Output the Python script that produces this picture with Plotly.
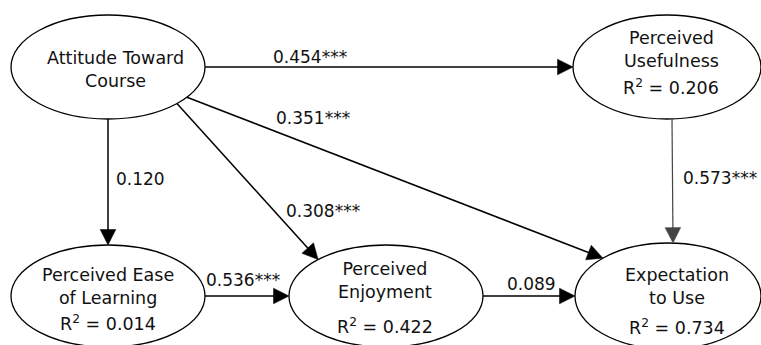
import math
import plotly.graph_objects as go

# ---------------- data ----------------
node_ids = ["ATC", "PU", "PEL", "PE", "EU"]
node_names = ["Attitude Toward<br>Course", "Perceived<br>Usefulness",
              "Perceived Ease<br>of Learning", "Perceived<br>Enjoyment",
              "Expectation<br>to Use"]
node_r2 = [None, 0.206, 0.014, 0.422, 0.734]

path_from = ["ATC", "ATC", "ATC", "ATC", "PEL", "PE", "PU"]
path_to = ["PU", "EU", "PEL", "PE", "PE", "EU", "EU"]
path_coef = [0.454, 0.351, 0.120, 0.308, 0.536, 0.089, 0.573]
path_stars = ["***", "***", "", "***", "***", "", "***"]

# ---------------- layout (pixel geometry) ----------------
W, H = 761, 345
geom = {  # ellipse centre/radii, text x, name-block y, R2 y
    "ATC": dict(cx=108, cy=67, rx=97, ry=52, tx=115, ny=69.5, ry2=None),
    "PU": dict(cx=667, cy=67, rx=94, ry=52, tx=671, ny=49, ry2=87),
    "PEL": dict(cx=108, cy=296, rx=97, ry=51, tx=108, ny=286, ry2=323),
    "PE": dict(cx=386, cy=296, rx=97, ry=51, tx=385, ny=280, ry2=326),
    "EU": dict(cx=668, cy=296, rx=93, ry=53, tx=677, ny=286.5, ry2=327),
}
# attachment angles (degrees, y-down) on source / target ellipse, and label centre
edge_geom = {
    ("ATC", "PU"): dict(a0=0, a1=180, lx=310, ly=57),
    ("ATC", "EU"): dict(a0=35.5, a1=225.6, lx=313, ly=118),
    ("ATC", "PEL"): dict(a0=90, a1=270, lx=140, ly=179),
    ("ATC", "PE"): dict(a0=44.7, a1=225.6, lx=323, ly=211),
    ("PEL", "PE"): dict(a0=0, a1=180, lx=243, ly=280),
    ("PE", "EU"): dict(a0=0, a1=180, lx=531, ly=284),
    ("PU", "EU"): dict(a0=86.95, a1=273.1, lx=720, ly=178),
}
edge_style = {("PU", "EU"): dict(color="#444444", width=1.2)}
HEAD_LEN, HEAD_HALF = 15.5, 7.8

FONT = "DejaVu Sans"
TXT = "#111111"


def pt(nid, ang):
    g = geom[nid]
    t = math.radians(ang)
    return g["cx"] + g["rx"] * math.cos(t), g["cy"] + g["ry"] * math.sin(t)


fig = go.Figure()
shapes = []
annotations = []

for nid, name, r2 in zip(node_ids, node_names, node_r2):
    g = geom[nid]
    shapes.append(dict(type="circle", xref="x", yref="y",
                       x0=g["cx"] - g["rx"], x1=g["cx"] + g["rx"],
                       y0=g["cy"] - g["ry"], y1=g["cy"] + g["ry"],
                       line=dict(color="black", width=1.3), fillcolor="rgba(0,0,0,0)"))
    annotations.append(dict(x=g["tx"], y=g["ny"], xref="x", yref="y", text=name,
                            showarrow=False, xanchor="center", yanchor="middle",
                            font=dict(family=FONT, size=17.5, color=TXT)))
    if r2 is not None:
        annotations.append(dict(x=g["tx"], y=g["ry2"], xref="x", yref="y",
                                text=f"R<sup>2</sup> = {r2:.3f}",
                                showarrow=False, xanchor="center", yanchor="middle",
                                font=dict(family=FONT, size=17.5, color=TXT)))

for s, t, c, st in zip(path_from, path_to, path_coef, path_stars):
    eg = edge_geom[(s, t)]
    x0, y0 = pt(s, eg["a0"])
    x1, y1 = pt(t, eg["a1"])
    sty = edge_style.get((s, t), dict(color="black", width=1.5))
    L = math.hypot(x1 - x0, y1 - y0)
    ux, uy = (x1 - x0) / L, (y1 - y0) / L
    bx, by = x1 - ux * HEAD_LEN, y1 - uy * HEAD_LEN
    # shaft
    shapes.append(dict(type="line", xref="x", yref="y", x0=x0, y0=y0,
                       x1=bx + ux * 2, y1=by + uy * 2,
                       line=dict(color=sty["color"], width=sty["width"])))
    # head
    p1 = (bx - uy * HEAD_HALF, by + ux * HEAD_HALF)
    p2 = (bx + uy * HEAD_HALF, by - ux * HEAD_HALF)
    path = f"M{x1:.2f},{y1:.2f} L{p1[0]:.2f},{p1[1]:.2f} L{p2[0]:.2f},{p2[1]:.2f} Z"
    shapes.append(dict(type="path", xref="x", yref="y", path=path,
                       fillcolor=sty["color"], line=dict(color=sty["color"], width=0.5)))
    annotations.append(dict(x=eg["lx"], y=eg["ly"], xref="x", yref="y",
                            text=f"{c:.3f}{st}", showarrow=False,
                            xanchor="center", yanchor="middle",
                            font=dict(family=FONT, size=17, color=TXT)))

fig.update_layout(
    width=W, height=H, autosize=False,
    margin=dict(l=0, r=0, t=0, b=0, pad=0),
    paper_bgcolor="white", plot_bgcolor="white",
    xaxis=dict(range=[0, W], visible=False, fixedrange=True),
    yaxis=dict(range=[H, 0], visible=False, fixedrange=True),
    shapes=shapes, annotations=annotations, showlegend=False,
)

fig.write_html("out.html", config={"displayModeBar": False})
